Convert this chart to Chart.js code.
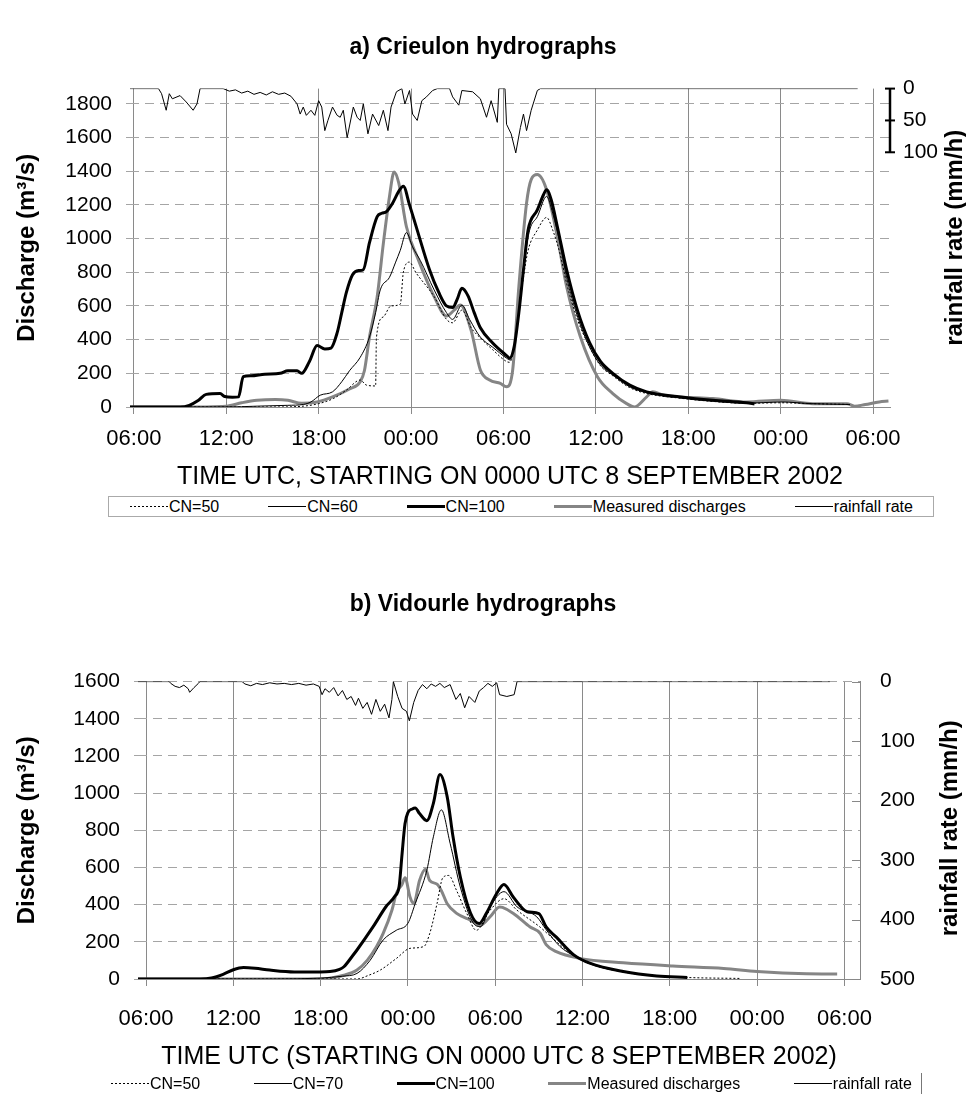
<!DOCTYPE html>
<html><head><meta charset="utf-8">
<script src="https://cdn.jsdelivr.net/npm/chart.js@4.4.0/dist/chart.umd.min.js"></script>
<style>
body{margin:0;background:#fff;width:966px;height:1101px;position:relative;overflow:hidden;font-family:Arial,"Liberation Sans",sans-serif}
canvas{position:absolute;left:0}
#cA{top:0}
#cB{top:560px}
.legend{position:absolute;box-sizing:border-box;display:flex;align-items:center;justify-content:space-between;font-size:16px;color:#000}
.legend .it{display:flex;align-items:center;white-space:nowrap}
.legend svg{margin-right:1px}
#legA{left:108px;top:496px;width:826px;height:21px;border:1px solid #aaa;padding:0 20px 0 21px}
#legB{left:100px;top:1073px;width:822px;height:21px;border-right:1px solid #777;padding:0 9px 0 11px}
</style></head>
<body>
<canvas id="cA" width="966" height="495"></canvas>
<canvas id="cB" width="966" height="515"></canvas>
<div class="legend" id="legA"></div>
<div class="legend" id="legB"></div>
<script>
// ---------- DATA (hours since 00:00 UTC 8 Sep 2002) ----------
const tickHours = [6,12,18,24,30,36,42,48,54];
const tickLabels = ['06:00','12:00','18:00','00:00','06:00','12:00','18:00','00:00','06:00'];

// a) Crieulon
const aCN50 = [[5.75,0],[15,0],[17,5],[18,20],[18.95,50],[19.8,100],[20.7,160],[21.1,130],[21.7,125],[21.75,410],[22.2,535],[22.7,600],[23.3,610],[23.5,800],[23.9,860],[24.3,800],[25.5,655],[26.3,520],[26.7,500],[27.3,575],[27.9,470],[28.5,410],[29.3,340],[30.2,270],[30.4,265],[30.8,420],[31.3,770],[31.6,930],[32.2,1050],[32.8,1125],[33.2,1050],[33.7,900],[34.1,735],[34.8,520],[35.6,355],[36.3,245],[37.1,185],[38.2,115],[39.3,80],[41.5,52],[43.6,33],[45.8,22],[48,25],[50,20],[52.5,15]];
const aCN60 = [[5.75,0],[12,0],[14,5],[16,10],[17,15],[17.5,30],[18.1,70],[18.9,90],[19.5,150],[20.0,215],[20.7,295],[21.3,415],[21.7,560],[22.0,695],[22.6,770],[23.0,860],[23.3,930],[23.7,1035],[24.1,950],[24.6,870],[25.5,695],[26.3,560],[26.7,520],[27.3,605],[27.8,520],[28.5,415],[29.3,355],[30.2,290],[30.4,280],[30.8,415],[31.1,650],[31.4,890],[31.7,1050],[32.2,1130],[32.8,1250],[33.2,1150],[33.7,960],[34.1,770],[34.8,540],[35.6,355],[36.3,250],[37.1,190],[38.2,120],[39.3,85],[41.5,55],[43.6,35],[45.8,22],[48,30],[50,20],[52.5,15]];
const aCN100 = [[5.75,0],[9.0,0],[9.6,10],[10.2,40],[10.7,75],[11.6,80],[11.9,62],[12.4,58],[12.8,60],[13.1,180],[13.6,185],[14.5,195],[15.5,200],[16.0,215],[16.6,215],[16.9,200],[17.4,270],[17.9,365],[18.4,345],[18.8,350],[19.2,440],[19.5,560],[19.8,680],[20.2,785],[20.6,810],[20.9,815],[21.3,975],[21.8,1130],[22.1,1150],[22.4,1160],[22.8,1210],[23.2,1280],[23.5,1310],[23.9,1200],[24.4,1050],[25.2,815],[25.8,680],[26.3,600],[26.7,590],[27.0,640],[27.3,705],[27.7,660],[28.1,560],[28.5,470],[29.3,380],[30.2,305],[30.4,290],[30.7,360],[31.0,560],[31.3,815],[31.6,1050],[32.2,1170],[32.6,1260],[32.8,1290],[33.1,1230],[33.5,1070],[34.1,815],[34.8,575],[35.6,380],[36.3,270],[37.1,200],[38.2,130],[39.3,90],[41.5,60],[43.6,40],[45.8,25],[46.3,18]];
const aMeasured = [[5.75,0],[9,0],[12,5],[13,25],[14,40],[15.2,45],[16,40],[16.9,22],[17.9,30],[18.9,60],[20.0,107],[20.7,150],[20.97,215],[21.3,415],[21.8,655],[22.2,970],[22.6,1250],[22.9,1395],[23.2,1330],[23.7,1070],[24.4,890],[25.5,655],[26.3,540],[26.8,575],[27.2,605],[27.9,455],[28.5,220],[29.1,160],[29.8,140],[30.2,120],[30.6,220],[31.0,715],[31.5,1210],[31.8,1350],[32.2,1380],[32.8,1290],[33.5,1010],[34.1,715],[35.0,415],[36.1,180],[37.1,80],[38.0,20],[38.5,0],[39.3,60],[39.7,90],[40.4,70],[41.5,60],[43.6,50],[45.8,30],[48,40],[50.1,20],[52.3,20],[52.8,5],[53.5,15],[54.4,30],[55.0,35]];
const aRain = [[5.75,0],[7.6,0],[7.8,8],[8.1,34],[8.3,8],[8.5,16],[9.0,11],[9.4,21],[9.85,34],[10.1,24],[10.3,0],[11.8,0],[12.2,4],[12.6,2],[13.0,7],[13.4,4],[13.8,9],[14.2,6],[14.6,10],[15.0,5],[15.4,9],[15.8,7],[16.2,12],[16.6,24],[16.8,40],[17.0,29],[17.2,42],[17.5,34],[17.75,42],[18.0,19],[18.2,29],[18.4,66],[18.6,50],[18.9,29],[19.2,42],[19.4,45],[19.6,34],[19.85,77],[20.25,29],[20.5,45],[20.7,50],[20.9,24],[21.2,71],[21.5,40],[21.9,58],[22.2,34],[22.5,66],[22.7,29],[23.05,5],[23.4,0],[23.6,24],[23.9,3],[24.1,40],[24.4,50],[24.7,19],[25.0,13],[25.4,3],[25.7,0],[26.5,0],[26.7,13],[27.1,26],[27.3,3],[28.0,5],[28.5,16],[28.9,45],[29.2,19],[29.6,53],[29.7,0],[30.1,0],[30.2,56],[30.5,71],[30.8,101],[31.1,61],[31.3,40],[31.5,66],[31.8,34],[32.2,3],[32.4,0],[53,0]];

// b) Vidourle
const bCN50 = [[5.45,0],[20.5,0],[21.3,20],[22.1,48],[23.2,110],[24.15,165],[25.1,175],[25.5,245],[26.0,405],[26.4,545],[26.8,557],[27.35,475],[28.05,352],[28.7,262],[29.65,370],[30.6,432],[31.5,370],[33.1,278],[34.0,215],[35.4,125],[36.5,82],[38.8,38],[41.1,16],[43.2,8],[46.8,3]];
const bCN70 = [[5.45,0],[15,0],[18,5],[19.5,15],[20.5,30],[21.4,100],[22.3,210],[23.2,262],[24.0,300],[24.5,405],[25.3,585],[25.75,765],[26.3,910],[26.9,730],[27.6,495],[28.5,300],[29.0,282],[29.65,388],[30.6,470],[31.5,388],[32.85,335],[33.5,265],[34.45,175],[35.4,125],[36.5,82],[38.8,38],[41.1,15],[43.2,7]];
const bCN100 = [[5.45,0],[9.7,0],[10.5,5],[11.3,25],[12.0,50],[12.7,62],[13.5,58],[14.5,48],[16.2,38],[18.0,38],[18.65,40],[19.3,52],[19.6,66],[20.2,125],[20.5,156],[21.6,280],[22.5,390],[23.1,445],[23.4,500],[23.6,675],[23.8,835],[24.0,895],[24.3,915],[24.5,920],[24.8,890],[25.3,852],[25.75,945],[26.2,1100],[26.7,980],[27.1,765],[27.6,550],[28.3,355],[28.9,298],[29.4,355],[30.1,460],[30.6,508],[31.25,440],[32.2,362],[33.0,352],[33.5,280],[34.2,225],[35.4,130],[36.5,85],[38.8,40],[41.1,16],[43.2,8]];
const bMeasured = [[5.45,0],[18,0],[19.6,20],[20.5,48],[21.2,100],[21.85,175],[22.3,245],[22.9,370],[23.2,460],[23.6,510],[23.8,545],[24.15,440],[24.4,405],[24.8,530],[25.2,590],[25.5,530],[26.0,510],[26.3,475],[26.7,405],[27.35,353],[28.3,317],[29.0,290],[29.65,335],[30.3,388],[30.5,385],[31.25,353],[32.4,280],[33.1,245],[33.5,185],[34.2,147],[35.8,111],[38.8,87],[42.2,70],[45.7,57],[48,40],[51.4,28],[53.5,27]];
const bRain = [[5.45,0],[7.6,0],[7.7,3],[8.0,8],[8.3,10],[8.6,6],[8.9,12],[9.0,18],[9.3,10],[9.6,3],[9.7,0],[12.6,0],[12.8,4],[13.2,7],[13.6,3],[14.0,5],[14.5,2],[15.0,4],[15.5,3],[16.0,5],[16.5,3],[17.0,6],[17.5,4],[17.9,8],[18.1,22],[18.3,12],[18.6,18],[18.9,10],[19.2,24],[19.5,15],[19.8,30],[20.1,25],[20.4,40],[20.6,28],[20.9,45],[21.2,35],[21.5,55],[21.8,30],[22.1,50],[22.4,38],[22.7,61],[22.9,30],[23.0,0],[23.3,25],[23.6,45],[23.9,50],[24.1,66],[24.4,35],[24.7,15],[25.0,5],[25.3,12],[25.6,4],[25.9,8],[26.2,3],[26.5,10],[26.9,5],[27.3,30],[27.6,20],[27.9,44],[28.2,25],[28.6,35],[28.9,16],[29.2,10],[29.5,3],[29.8,8],[30.1,2],[30.3,22],[30.8,25],[31.3,22],[31.5,0],[53,0]];

// ---------- helpers ----------
Chart.defaults.font.family = 'Arial, "Liberation Sans", sans-serif';
Chart.defaults.color = '#000';
const pts = arr => arr.map(p => ({x:p[0], y:p[1]}));

const styles = {
  cn50:  {borderColor:'#000', borderWidth:1, borderDash:[2,2]},
  cn60:  {borderColor:'#000', borderWidth:1},
  cn100: {borderColor:'#000', borderWidth:3},
  meas:  {borderColor:'#858585', borderWidth:3},
  rain:  {borderColor:'#000', borderWidth:1}
};

const sidePlugin = {
  id:'sideStuff',
  afterDraw(chart, args, o){
    const ctx = chart.ctx, ca = chart.chartArea, r = chart.scales.yR;
    ctx.save();
    ctx.font = 'bold 24px Arial, "Liberation Sans", sans-serif';
    ctx.fillStyle = '#000'; ctx.textAlign = 'center'; ctx.textBaseline = 'middle';
    ctx.translate(o.titleX, (ca.top + ca.bottom)/2 + o.titleDy);
    ctx.rotate(-Math.PI/2);
    ctx.fillText(o.title, 0, 0);
    ctx.restore();
    ctx.save();
    const x = r.left;
    if (o.segment) {
      ctx.strokeStyle = '#000'; ctx.lineWidth = 2.5;
      const y0 = r.getPixelForValue(0), y1 = r.getPixelForValue(o.segMax);
      ctx.beginPath(); ctx.moveTo(x, y0); ctx.lineTo(x, y1); ctx.stroke();
      ctx.lineWidth = 2;
      r.ticks.forEach(t => { const y = r.getPixelForValue(t.value);
        ctx.beginPath(); ctx.moveTo(x-5, y); ctx.lineTo(x+5, y); ctx.stroke(); });
    } else {
      ctx.strokeStyle = '#888'; ctx.lineWidth = 1;
      r.ticks.forEach(t => { const y = Math.round(r.getPixelForValue(t.value))+0.5;
        ctx.beginPath(); ctx.moveTo(x-8, y); ctx.lineTo(x, y); ctx.stroke(); });
    }
    ctx.restore();
  }
};

function makeChart(id, cfg){
  const ds = [
    Object.assign({label:'CN=100', data:pts(cfg.cn100), yAxisID:'y'}, styles.cn100),
    Object.assign({label:cfg.midLabel, data:pts(cfg.cnMid), yAxisID:'y'}, styles.cn60),
    Object.assign({label:'CN=50', data:pts(cfg.cn50), yAxisID:'y'}, styles.cn50),
    Object.assign({label:'Measured discharges', data:pts(cfg.meas), yAxisID:'y'}, styles.meas),
    Object.assign({label:'rainfall rate', data:pts(cfg.rain), yAxisID:'yR', tension:0}, styles.rain)
  ];
  ds.forEach(d => { d.pointRadius = 0; d.fill = false; if (d.tension === undefined) { d.tension = 0.35; d.cubicInterpolationMode = 'monotone'; } });
  const yTickVals = [];
  for (let v = 0; v <= cfg.yMax; v += 200) yTickVals.push(v);
  const rTickVals = [];
  for (let v = 0; v <= cfg.rTickMax; v += cfg.rStep) rTickVals.push(v);
  return new Chart(document.getElementById(id), {
    type:'line',
    data:{datasets:ds},
    options:{
      responsive:false, animation:false, events:[],
      layout:{padding:{left:0,right:0,top:0,bottom:0}},
      plugins:{
        legend:{display:false}, tooltip:{enabled:false},
        title:{display:true, text:cfg.title, font:{size:23, weight:'bold'}, color:'#000',
               padding:{top:cfg.titlePadTop, bottom:cfg.titlePadBottom}},
        sideStuff:{title:'rainfall rate (mm/h)', titleX:cfg.rTitleX, titleDy:cfg.rTitleDy, segment:cfg.segment, segMax:100}
      },
      scales:{
        x:{type:'linear', min:cfg.xMin, max:cfg.xMax,
           afterBuildTicks:s => { s.ticks = tickHours.map(v => ({value:v})); },
           afterFit:s => { s.height = cfg.xAxisH; },
           ticks:{autoSkip:false, maxRotation:0, padding:cfg.xTickPad, font:{size:22},
                  callback:(v) => tickLabels[tickHours.indexOf(v)]},
           grid:{color:'#8a8a8a', lineWidth:1, tickLength:7, drawOnChartArea:true},
           border:{display:true, color:'#8a8a8a'},
           title:{display:true, text:cfg.xTitle, font:{size:25}, color:'#000', padding:{top:0,bottom:cfg.xTitlePadB}}},
        y:{type:'linear', position:'left', min:0, max:cfg.yMax,
           afterBuildTicks:s => { s.ticks = yTickVals.map(v => ({value:v})); },
           afterFit:s => { s.width = cfg.leftW; },
           ticks:{padding:14, font:{size:21}, callback:v => String(v)},
           grid:{color:'#a5a5a5', tickLength:4},
           border:{display:false, dash:[9,6]},
           title:{display:true, text:'Discharge (m\u00B3/s)', font:{size:24, weight:'bold'}, color:'#000', padding:{top:13,bottom:0}}},
        yR:{type:'linear', position:'right', min:0, max:500, reverse:true,
           afterBuildTicks:s => { s.ticks = rTickVals.map(v => ({value:v})); },
           afterFit:s => { s.width = cfg.rightW; },
           ticks:{padding:cfg.rTickPad, font:{size:21}, callback:v => String(v)},
           grid:{drawOnChartArea:false, drawTicks:false, color:'rgba(0,0,0,0)'},
           border:{display:cfg.rBorder, color:'#888'}}
      }
    },
    plugins:[sidePlugin]
  });
}

makeChart('cA', {title:'a) Crieulon hydrographs', titlePadTop:34, titlePadBottom:27,
  cn50:aCN50, cnMid:aCN60, midLabel:'CN=60', cn100:aCN100, meas:aMeasured, rain:aRain,
  xMin:5.75, xMax:55.1, yMax:1890, leftW:130, rightW:76, xAxisH:88, xTickPad:12, xTitlePadB:3,
  xTitle:'TIME UTC, STARTING ON 0000 UTC 8 SEPTEMBER 2002',
  rStep:50, rTickMax:100, rTickPad:13, rBorder:false, segment:true, rTitleX:955, rTitleDy:-10});

makeChart('cB', {title:'b) Vidourle hydrographs', titlePadTop:31, titlePadBottom:63,
  cn50:bCN50, cnMid:bCN70, midLabel:'CN=70', cn100:bCN100, meas:bMeasured, rain:bRain,
  xMin:5.45, xMax:55.07, yMax:1600, leftW:138, rightW:106, xAxisH:96, xTickPad:20, xTitlePadB:3,
  xTitle:'TIME UTC (STARTING ON 0000 UTC 8 SEPTEMBER 2002)',
  rStep:100, rTickMax:500, rTickPad:20, rBorder:true, segment:false, rTitleX:950, rTitleDy:-2});

// ---------- HTML legends ----------
function sample(st){
  const dash = st.borderDash ? ` stroke-dasharray="${st.borderDash.join(',')}"` : '';
  const y = st.borderWidth % 2 ? 4.5 : 4;
  return `<svg width="38" height="9"><line x1="0" y1="${y}" x2="38" y2="${y}" stroke="${st.borderColor}" stroke-width="${st.borderWidth}"${dash}/></svg>`;
}
function legend(id, mid){
  const items = [['CN=50',styles.cn50],[mid,styles.cn60],['CN=100',styles.cn100],['Measured discharges',styles.meas],['rainfall rate',styles.rain]];
  document.getElementById(id).innerHTML = items.map(i => `<span class="it">${sample(i[1])}${i[0]}</span>`).join('');
}
legend('legA','CN=60');
legend('legB','CN=70');
</script>
</body></html>
